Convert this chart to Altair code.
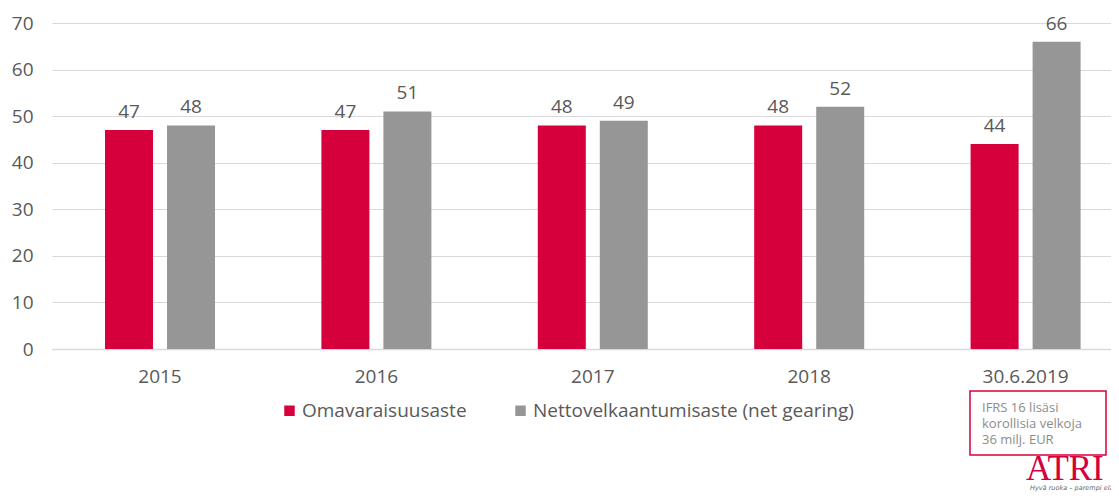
import altair as alt
import pandas as pd

categories = ["2015", "2016", "2017", "2018", "30.6.2019"]
series = ["Omavaraisuusaste", "Nettovelkaantumisaste (net gearing)"]
equity_ratio = [47, 47, 48, 48, 44]
net_gearing = [48, 51, 49, 52, 66]
y_ticks = [0, 10, 20, 30, 40, 50, 60, 70]
note_lines = ["IFRS 16 lisäsi", "korollisia velkoja", "36 milj. EUR"]
logo_text = "ATRI"
tagline_text = "Hyvä ruoka – parempi elämä"

RED = "#d6003c"
GRAY = "#969696"
TXT = "#595959"
FONT = "Open Sans"

rows = []
for c, v in zip(categories, equity_ratio):
    rows.append({"cat": c, "series": series[0], "value": v})
for c, v in zip(categories, net_gearing):
    rows.append({"cat": c, "series": series[1], "value": v})
df = pd.DataFrame(rows)

W, H = 1059, 326

x = alt.X("cat:N", sort=categories, title=None,
          scale=alt.Scale(paddingInner=0.4917, paddingOuter=0.1927, align=0.6355),
          axis=alt.Axis(labelAngle=0, labelFontSize=19, labelColor=TXT, labelFont=FONT,
                        domainColor="#d9d9d9", domainWidth=1.5, ticks=False, labelPadding=18,
                        grid=False))
xo = alt.XOffset("series:N", sort=series,
                 scale=alt.Scale(paddingInner=0.2258, paddingOuter=0))
y = alt.Y("value:Q", title=None,
          scale=alt.Scale(domain=[0, 70], nice=False),
          axis=alt.Axis(values=y_ticks, labelFontSize=19, labelColor=TXT, labelFont=FONT,
                        domain=False, ticks=False, labelPadding=19,
                        gridColor="#d9d9d9", gridWidth=1))
color = alt.Color("series:N", sort=series,
                  scale=alt.Scale(domain=series, range=[RED, GRAY]),
                  legend=alt.Legend(title=None, orient="none", legendX=228, legendY=378,
                                    direction="horizontal", symbolType="square",
                                    symbolSize=110, symbolStrokeWidth=0, symbolOpacity=1,
                                    labelFontSize=19, labelColor=TXT, labelFont=FONT,
                                    labelLimit=0, columnPadding=44, labelOffset=3))

base = alt.Chart(df)
bars = base.mark_bar().encode(x=x, xOffset=xo, y=y, color=color)
labels = base.mark_text(baseline="bottom", dy=-8, fontSize=19, color=TXT, font=FONT).encode(
    x=x, xOffset=xo, y=y, text=alt.Text("value:Q"))

note_df = pd.DataFrame({"t": ["\n".join(note_lines)]})
box = alt.Chart(note_df).mark_rect(fill="white", stroke=RED, strokeWidth=1.5).encode(
    x=alt.value(918), x2=alt.value(1054), y=alt.value(368), y2=alt.value(432))
note = alt.Chart(note_df).mark_text(align="left", baseline="alphabetic", fontSize=13,
                                    color="#8c8c8c", font=FONT, lineBreak="\n",
                                    lineHeight=16).encode(
    x=alt.value(930), y=alt.value(389), text="t:N")
logo = alt.Chart(pd.DataFrame({"t": [logo_text]})).mark_text(
    align="left", baseline="alphabetic", fontSize=35, color=RED,
    font="Liberation Serif").encode(x=alt.value(974), y=alt.value(457), text="t:N")
tag = alt.Chart(pd.DataFrame({"t": [tagline_text]})).mark_text(
    align="left", baseline="alphabetic", fontSize=6.5, fontStyle="italic", color="#666666",
    font="DejaVu Sans").encode(x=alt.value(978), y=alt.value(467), text="t:N")

chart = alt.layer(bars, labels, box, note, logo, tag).properties(
    width=W, height=H,
    autosize=alt.AutoSizeParams(type="none"),
    padding={"left": 44, "top": 15, "right": 0, "bottom": 145},
).configure_view(stroke=None)

chart.save("out.html", embed_options={"renderer": "svg", "actions": False})
